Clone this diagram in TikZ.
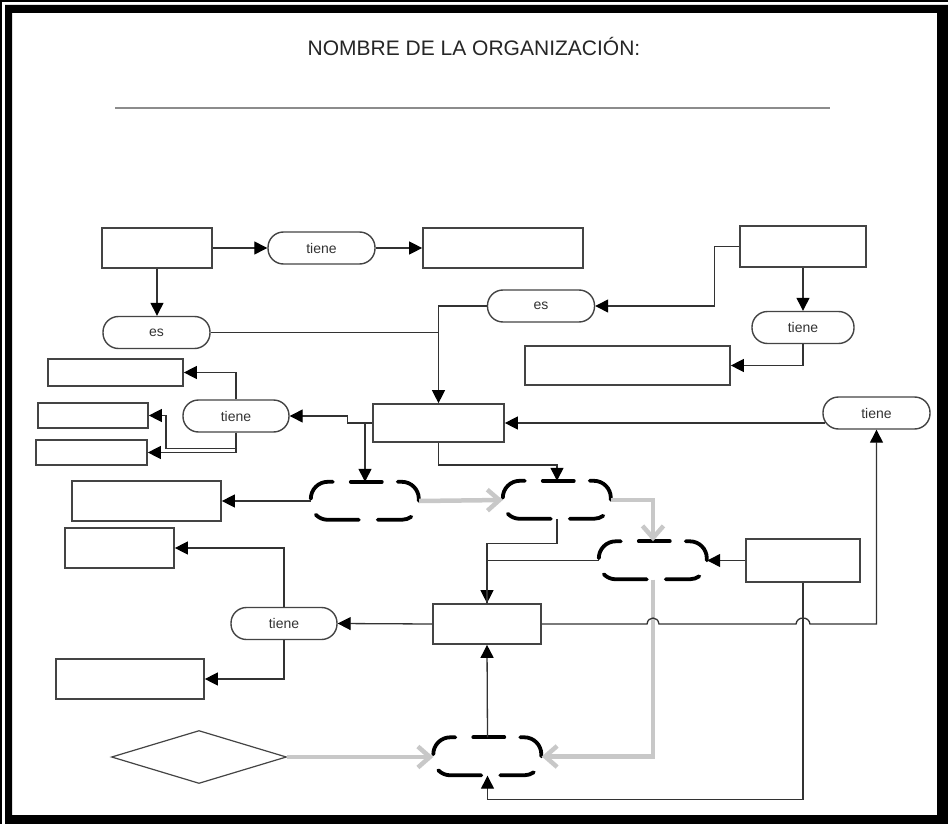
\documentclass[tikz,border=0pt]{standalone}
\usepackage{fontspec}
\setmainfont{Liberation Sans}
\usetikzlibrary{arrows.meta,calc,shapes.geometric}
\definecolor{edge}{HTML}{333333}
\definecolor{frame}{HTML}{444444}
\definecolor{flow}{HTML}{C8C8C8}

% dashed capsule drawn over an (invisible) slot node, 108 x 38
\newcommand\capsuleoutline[1]{%
  \begin{scope}[shift={(#1.north west)}]
    \draw[dashpart] (0,17) .. controls (0,7.6) and (7.6,0) .. (17,0) -- (22,0);
    \draw[dashpart] (40,0) -- (71,0);
    \draw[dashpart] (87,0) -- (91,0) .. controls (100.4,0) and (108,7.6) .. (108,17) -- (108,19);
    \draw[dashpart] (5,33) .. controls (8.2,36.2) and (12.5,38) .. (17,38) -- (48,38);
    \draw[dashpart] (67,38) -- (91,38) .. controls (94.5,38) and (97.8,36.8) .. (100.5,35);
  \end{scope}}

\begin{document}
\begin{tikzpicture}[x=1pt,y=-1pt,
  box/.style={draw=frame, line width=1.7pt, fill=white, inner sep=0pt},
  pill/.style={draw=frame, line width=1.4pt, fill=white, rounded corners=15.5pt,
    minimum width=107pt, minimum height=32pt, inner sep=0pt,
    font=\fontsize{14}{16}\selectfont, text=black!80},
  slot/.style={minimum width=108pt, minimum height=38pt, inner sep=0pt},
  link/.style={draw=edge, line width=1.3pt},
  arr/.style={link, -{Triangle[length=13pt,width=13pt,color=black]}},
  flowarr/.style={draw=flow, line width=4.5pt, -{Straight Barb[length=12pt,width=21pt]}},
  dashpart/.style={line width=3.8pt, line cap=round, draw=black}]

\useasboundingbox (0,0) rectangle (948,824);
\fill[white] (0,0) rectangle (948,824);

% page frame
\fill[black, even odd rule] (5,5) rectangle (948,824) (12,13) rectangle (937,815);
\draw[black, line width=2pt] (1,824) -- (1,1) -- (948,1);

% heading
\node[anchor=base, font=\fontsize{21}{25}\selectfont, text=black!85] (title) at (474,56) {NOMBRE DE LA ORGANIZACIÓN:};
\coordinate (ruleL) at (115,108);
\coordinate (ruleR) at (830,108);
\draw[black!45, line width=2pt] (ruleL) -- (ruleR);

% concept boxes
\node[box, minimum width=110pt, minimum height=40pt] (A) at (157,248) {};
\node[box, minimum width=160pt, minimum height=40pt] (B) at (503,248) {};
\node[box, minimum width=126pt, minimum height=41pt] (L) at (803,246.5) {};
\node[box, minimum width=205pt, minimum height=39pt] (M) at (627.5,365.5) {};
\node[box, minimum width=131pt, minimum height=38pt] (C) at (438.5,423) {};
\node[box, minimum width=135pt, minimum height=27pt] (D) at (115.5,372.5) {};
\node[box, minimum width=110pt, minimum height=25pt] (E) at (93,415.5) {};
\node[box, minimum width=111pt, minimum height=25pt] (F) at (91.5,452.5) {};
\node[box, minimum width=149pt, minimum height=40pt] (G) at (146.5,501) {};
\node[box, minimum width=114pt, minimum height=43pt] (I) at (803,560.5) {};
\node[box, minimum width=109pt, minimum height=40pt] (J) at (119.5,548) {};
\node[box, minimum width=108pt, minimum height=40pt] (H) at (487,624) {};
\node[box, minimum width=148pt, minimum height=40pt] (K) at (130,679) {};
\node[draw=frame, line width=1.2pt, diamond, minimum width=175pt, minimum height=53pt, inner sep=0pt] (Q) at (199,757) {};

% linking words
\node[pill] (p1) at (321.5,248) {tiene};
\node[pill] (p2) at (156.5,332.5) {es};
\node[pill] (p3) at (541,306) {es};
\node[pill, minimum width=102pt] (p7) at (803,327.5) {tiene};
\node[pill] (p5) at (876.5,413) {tiene};
\node[pill, minimum width=106pt] (p4) at (236,416) {tiene};
\node[pill, minimum width=106pt] (p6) at (284,623.5) {tiene};

% dashed capsules
\node[slot] (D1) at (365,501) {};
\node[slot] (D2) at (557,500) {};
\node[slot] (D3) at (653,560.5) {};
\node[slot] (D4) at (487.5,756.5) {};
\capsuleoutline{D1}
\capsuleoutline{D2}
\capsuleoutline{D3}
\capsuleoutline{D4}

% connectors, upper part
\draw[arr] (A.east) -- (p1.west);
\draw[arr] (p1.east) -- (B.west);
\draw[arr] (A.south) -- (A.south |- p2.north);
\draw[arr] (p2.east) -| (C.north);
\draw[link] (p3.west) -| (p2.east -| C.north);
\draw[arr] (L.west) -- ++(-25,0) |- (p3.east);
\draw[arr] (L.south) -- (L.south |- p7.north);
\draw[arr] (p7.south) |- (M.east);
\draw[arr] ($(p5.west |- C.east)+(3,0)$) -- (C.east);

% connectors, left branch
\draw[arr] (C.west) -- ++(-25,0) |- (p4.east);
\draw[arr] (C.west -| D1.north) -- (D1.north);
\draw[arr] (p4.north) |- (D.east);
\draw[arr] (p4.south) -- ++(0,16) -- ++(-70,0) |- (E.east);
\draw[arr] (p4.south) |- (F.east);
\draw[arr] (D1.west) -- (G.west -| G.east);

% connectors, middle part
\draw[arr] (C.south) -- ++(0,22) -| (D2.north);
\draw[arr] (D2.south) -- ++(0,24) -| (H.north);
\draw[link] (D3.west) -| (H.north);
\draw[arr] (I.west) -- (D3.east);
\draw[arr] (H.west) -- (p6.east);
\draw[arr] (p6.north) |- (J.east);
\draw[arr] (p6.south) |- (K.east);
\draw[arr] (D4.north) -- (H.south);
\draw[arr] (I.south) |- ([yshift=-24pt]D4.south) -- (D4.south);

% grey flow arrows
\draw[flowarr] (D1.east) -- (D2.west);
\draw[flowarr] (D2.east) -| (D3.north);
\draw[flowarr] (D3.south) |- (D4.east);
\draw[flowarr] (Q.east) -- (Q.east -| D4.west);

% line from H to the right, hopping over two crossings
\coordinate (j1) at (D3.south |- H.east);
\coordinate (j2) at (I.south |- H.east);
\draw[arr] (H.east) -- ($(j1)+(-6,0)$)
  .. controls ($(j1)+(-5,-8)$) and ($(j1)+(5,-8)$) .. ($(j1)+(6,0)$)
  -- ($(j2)+(-7,0)$)
  .. controls ($(j2)+(-6,-8)$) and ($(j2)+(6,-8)$) .. ($(j2)+(7,0)$)
  -| (p5.south);
\end{tikzpicture}
\end{document}
